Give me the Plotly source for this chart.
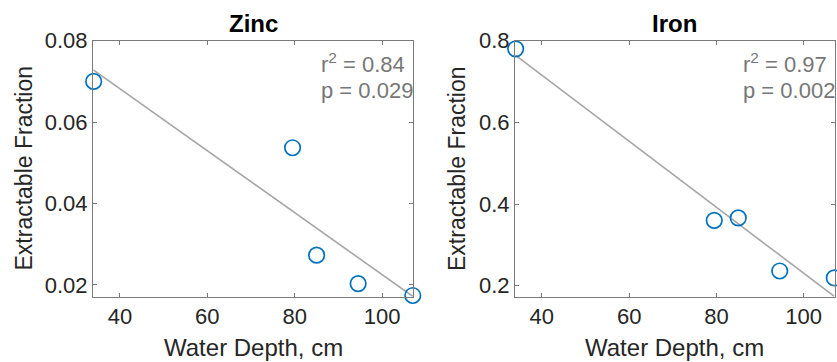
import numpy as np
import plotly.graph_objects as go

# Data
depth = [34, 79.5, 85, 94.5, 107]
zinc = [0.0700, 0.0537, 0.0273, 0.0203, 0.0174]
iron = [0.780, 0.360, 0.366, 0.236, 0.219]
titles = ["Zinc", "Iron"]
stats = [("0.84", "0.029"), ("0.97", "0.002")]
zinc_ticks = [0.02, 0.04, 0.06, 0.08]
iron_ticks = [0.2, 0.4, 0.6, 0.8]
x_ticks = [40, 60, 80, 100]

W, H = 837, 362
FONT = "Liberation Sans, Arial, Helvetica, sans-serif"
TXT = "#262626"
AX = "#7a7a7a"
BLUE = "#0072BD"

fig = go.Figure()

doms_x = [[93 / W, 413 / W], [515 / W, 834.5 / W]]
dom_y = [1 - 296.7 / H, 1 - 40.7 / H]
yranges = [[0.0171, 0.08], [0.173, 0.8]]
yticks = [zinc_ticks, iron_ticks]
ytickfmt = [".2f", ".1f"]

for i, ys in enumerate([zinc, iron]):
    xa = "x" if i == 0 else "x2"
    ya = "y" if i == 0 else "y2"
    slope, inter = np.polyfit(depth, ys, 1)
    xf = np.array([min(depth), max(depth)])
    fig.add_trace(go.Scatter(
        x=xf, y=slope * xf + inter, mode="lines",
        line=dict(color="#a6a6a6", width=1.6),
        xaxis=xa, yaxis=ya, showlegend=False, hoverinfo="skip"))
    fig.add_trace(go.Scatter(
        x=depth, y=ys, mode="markers",
        marker=dict(symbol="circle-open", size=15.5, color=BLUE,
                    line=dict(width=1.7, color=BLUE)),
        cliponaxis=False, xaxis=xa, yaxis=ya, showlegend=False))

axis_common = dict(
    showline=True, linecolor=AX, linewidth=1, mirror="ticks",
    ticks="inside", ticklen=4, tickcolor=AX, showgrid=False, zeroline=False,
    tickfont=dict(family=FONT, size=22, color=TXT), automargin=False,
)

for i in range(2):
    sfx = "" if i == 0 else "2"
    fig.layout["xaxis" + sfx] = dict(
        axis_common, domain=doms_x[i], range=[33.85, 107.05],
        tickvals=x_ticks, anchor="y" + sfx)
    fig.layout["yaxis" + sfx] = dict(
        axis_common, domain=dom_y, range=yranges[i],
        tickvals=yticks[i], tickformat=ytickfmt[i], anchor="x" + sfx)

    cx = (doms_x[i][0] + doms_x[i][1]) / 2
    # Title
    fig.add_annotation(x=cx, y=1 - 23 / H, xref="paper", yref="paper",
                       xanchor="center", yanchor="middle",
                       text="<b>" + titles[i] + "</b>", showarrow=False,
                       font=dict(family=FONT, size=24, color="#000000"))
    # X axis title
    fig.add_annotation(x=cx, y=1 - 347 / H, xref="paper", yref="paper",
                       xanchor="center", yanchor="middle",
                       text="Water Depth, cm", showarrow=False,
                       font=dict(family=FONT, size=24, color=TXT))
    # Y axis title
    ylx = [23, 456.5][i]
    fig.add_annotation(x=ylx / W, y=1 - 168.5 / H,
                       xref="paper", yref="paper", textangle=-90,
                       xanchor="center", yanchor="middle",
                       text="Extractable Fraction", showarrow=False,
                       font=dict(family=FONT, size=23, color=TXT))
    # Stats
    lx = doms_x[i][0] + 225.5 / W
    r2, p = stats[i]
    fig.add_annotation(x=lx, y=1 - 63 / H, xref="paper", yref="paper",
                       xanchor="left", yanchor="middle",
                       text="r<sup>2</sup> = " + r2, showarrow=False,
                       font=dict(family=FONT, size=22, color="#777777"))
    fig.add_annotation(x=lx, y=1 - 90 / H, xref="paper", yref="paper",
                       xanchor="left", yanchor="middle",
                       text="p = " + p, showarrow=False,
                       font=dict(family=FONT, size=22, color="#777777"))

fig.update_layout(
    width=W, height=H, margin=dict(l=0, r=0, t=0, b=0),
    paper_bgcolor="white", plot_bgcolor="white",
    font=dict(family=FONT, color=TXT),
)

fig.write_html("out.html")
